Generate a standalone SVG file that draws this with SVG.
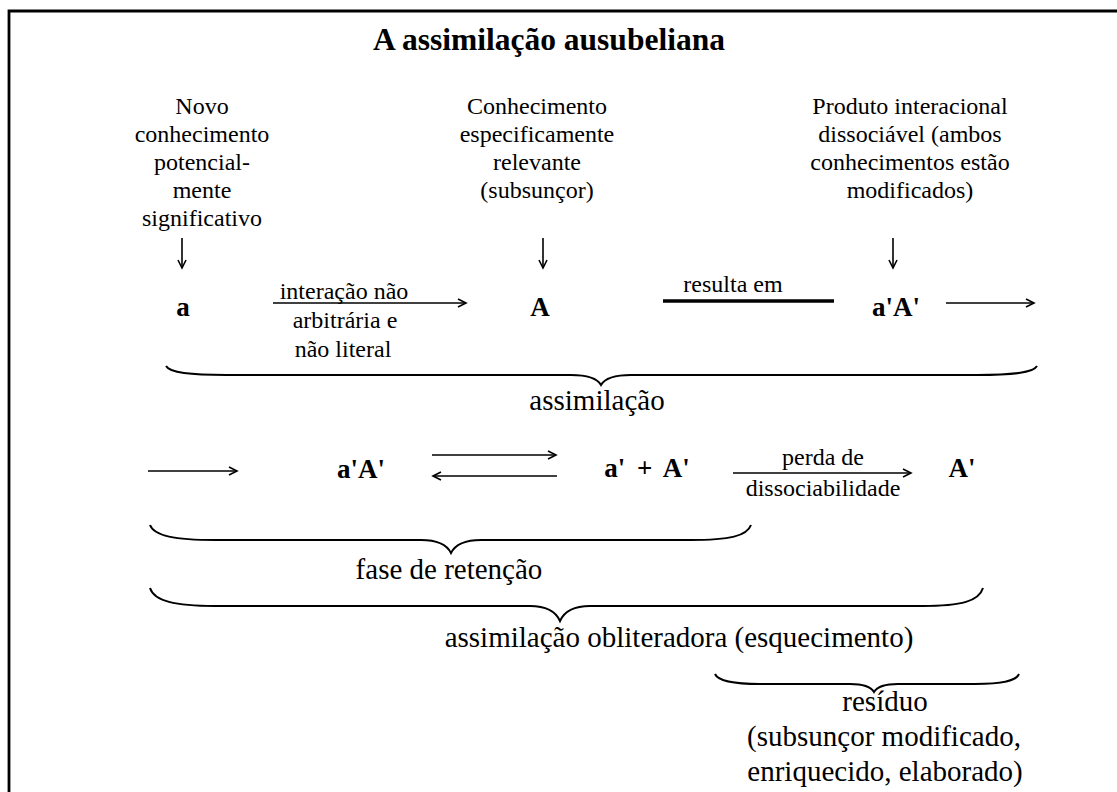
<svg xmlns="http://www.w3.org/2000/svg" width="1117" height="792" viewBox="0 0 1117 792">
<style>
text{font-family:"Liberation Serif","Times New Roman",serif;fill:#000;text-anchor:middle}
.t{font-size:24px}
.l{font-size:29px}
.b{font-size:27px;font-weight:bold}
.h{font-size:31.5px;font-weight:bold}
.c{stroke:#000;stroke-width:1.6;fill:none}
.br{stroke:#000;stroke-width:2;fill:none}
</style>
<defs>
<marker id="ah" markerUnits="userSpaceOnUse" markerWidth="12" markerHeight="12" refX="9" refY="5" orient="auto">
<path d="M1,1 L9,5 L1,9" stroke="#000" stroke-width="1.6" fill="none"/>
</marker>
</defs>
<rect width="1117" height="792" fill="#fff"/>
<path d="M9,792 L9,11 L1117,11" stroke="#000" stroke-width="2.8" fill="none"/>
<g id="title"><text class="h" x="549" y="50">A assimilação ausubeliana</text></g>
<g id="novo">
<text class="t" x="202" y="114">Novo</text>
<text class="t" x="202" y="142">conhecimento</text>
<text class="t" x="202" y="170">potencial-</text>
<text class="t" x="202" y="198">mente</text>
<text class="t" x="202" y="226">significativo</text>
</g>
<g id="conhecimento">
<text class="t" x="537" y="114">Conhecimento</text>
<text class="t" x="537" y="142">especificamente</text>
<text class="t" x="537" y="170">relevante</text>
<text class="t" x="537" y="198">(subsunçor)</text>
</g>
<g id="produto">
<text class="t" x="910" y="114">Produto interacional</text>
<text class="t" x="910" y="142">dissociável (ambos</text>
<text class="t" x="910" y="170">conhecimentos estão</text>
<text class="t" x="910" y="198">modificados)</text>
</g>
<g id="a"><text class="b" x="183" y="316">a</text></g>
<g id="A"><text class="b" x="540" y="316">A</text></g>
<g id="aA1"><text class="b" x="896" y="316">a'A'</text></g>
<g id="aA2"><text class="b" x="361" y="478">a'A'</text></g>
<g id="aplusA"><text class="b" x="647" y="477" word-spacing="5">a' + A'</text></g>
<g id="Alinha"><text class="b" x="962" y="477">A'</text></g>
<g id="connectors">
<line class="c" x1="182" y1="238" x2="182" y2="268" marker-end="url(#ah)"/>
<line class="c" x1="543" y1="238" x2="543" y2="268" marker-end="url(#ah)"/>
<line class="c" x1="893" y1="238" x2="893" y2="268" marker-end="url(#ah)"/>
<line class="c" x1="273" y1="303" x2="466" y2="303" marker-end="url(#ah)"/>
<line x1="663" y1="301" x2="834" y2="301" stroke="#000" stroke-width="3.5"/>
<line class="c" x1="946" y1="303" x2="1034" y2="303" marker-end="url(#ah)"/>
<line class="c" x1="148" y1="471" x2="237" y2="471" marker-end="url(#ah)"/>
<line class="c" x1="432" y1="455" x2="556" y2="455" marker-end="url(#ah)"/>
<line class="c" x1="557" y1="476" x2="433" y2="476" marker-end="url(#ah)"/>
<line class="c" x1="733" y1="473" x2="911" y2="473" marker-end="url(#ah)"/>
</g>
<g id="labels">
<text class="t" x="344" y="299">interação não</text>
<text class="t" x="345" y="328">arbitrária e</text>
<text class="t" x="343" y="357">não literal</text>
<text class="t" x="733" y="292">resulta em</text>
<text class="t" x="823" y="465">perda de</text>
<text class="t" x="823" y="496">dissociabilidade</text>
</g>
<g id="braces">
<path class="br" d="M166,366 C170,373 190,375 226,375 L571,375 C588,375 597,378 601,385 C605,378 614,375 631,375 L977,375 C1013,375 1033,373 1037,366"/>
<path class="br" d="M150,525 C154,536 175,540 215,540 L421,540 C438,540 447,545 451,553 C455,545 464,540 481,540 L690,540 C730,540 747,536 751,525"/>
<path class="br" d="M150,588 C154,601 175,606 215,606 L530,606 C547,606 556,612 560,621 C564,612 573,606 590,606 L922,606 C962,606 979,601 983,588"/>
<path class="br" d="M715,674 C718,681 732,684 760,684 L850,684 C864,684 871,687 874,692 C877,687 884,684 898,684 L975,684 C1003,684 1016,681 1019,674"/>
</g>
<g id="brace-labels">
<text class="l" x="597" y="410">assimilação</text>
<text class="l" x="449" y="579">fase de retenção</text>
<text class="l" x="679" y="647">assimilação obliteradora (esquecimento)</text>
<text class="l" x="885" y="711">resíduo</text>
<text class="l" x="884" y="746">(subsunçor modificado,</text>
<text class="l" x="885" y="781">enriquecido, elaborado)</text>
</g>
</svg>
